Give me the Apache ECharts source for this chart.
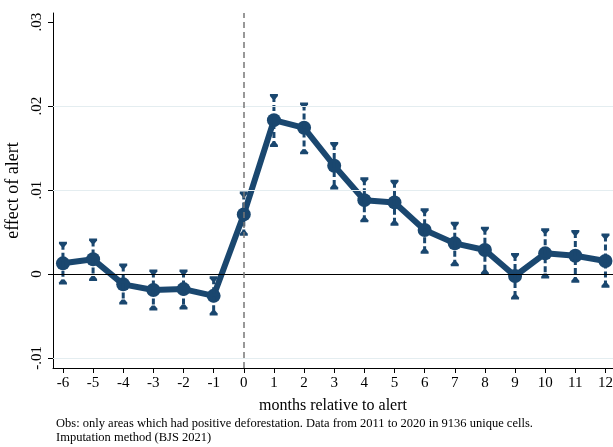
<!DOCTYPE html>
<html>
<head>
<meta charset="utf-8">
<script src="https://cdn.jsdelivr.net/npm/echarts@6/dist/echarts.min.js"></script>
<style>html,body{margin:0;padding:0;background:#fff}#c{width:613px;height:447px}</style>
</head>
<body>
<div id="c"></div>
<script>
var months = [-6,-5,-4,-3,-2,-1,0,1,2,3,4,5,6,7,8,9,10,11,12];
var estimates = [0.00127,0.00175,-0.00123,-0.0019,-0.0018,-0.0026,0.0071,0.01833,0.01742,0.0129,0.0088,0.00853,0.00524,0.00365,0.00286,-0.00024,0.00246,0.00218,0.00155];
var ciLow = [-0.001,-0.0006,-0.0034,-0.0041,-0.004,-0.0047,0.0048,0.01536,0.0145,0.0103,0.0064,0.006,0.00266,0.00115,0.00016,-0.0028,-0.0003,-0.0008,-0.0014];
var ciHigh = [0.0036,0.004,0.001,0.0003,0.0003,-0.0005,0.0096,0.0212,0.0202,0.01548,0.0113,0.011,0.0076,0.006,0.0054,0.00226,0.0052,0.005,0.0046];
var yTicks = [-0.01,0,0.01,0.02,0.03];
var yTickLabels = ['-.01','0','.01','.02','.03'];
var gridValues = [-0.01,0.01,0.02];
var footnote1 = 'Obs: only areas which had positive deforestation. Data from 2011 to 2020 in 9136 unique cells.';
var footnote2 = 'Imputation method (BJS 2021)';

var NAVY = '#1a476f';
var FONT = 'Liberation Serif';
var chart = echarts.init(document.getElementById('c'));
var pts = months.map(function(m,i){return [m, estimates[i]];});
var ci = months.map(function(m,i){return [m, ciLow[i], ciHigh[i]];});

function fmtY(v){
  for (var i=0;i<yTicks.length;i++){ if (Math.abs(v-yTicks[i])<1e-9) return yTickLabels[i]; }
  return '';
}
var refLines = gridValues.map(function(v){return {yAxis:v,lineStyle:{color:'#e4edf0',width:1,type:'solid'}};});
refLines.push({yAxis:0,lineStyle:{color:'#000',width:1,type:'solid'}});
refLines.push({xAxis:0,lineStyle:{color:'#777',width:1.5,type:[6,4]}});

chart.setOption({
  animation:false,
  backgroundColor:'#fff',
  grid:{left:53,right:0,top:13,bottom:79,containLabel:false,outerBoundsMode:'none'},
  xAxis:{
    type:'value', min:-6.33, max:12.25, interval:1,
    name:'months relative to alert', nameLocation:'middle', nameGap:30,
    nameTextStyle:{fontFamily:FONT,fontSize:16,color:'#000'},
    axisLine:{show:true,onZero:false,lineStyle:{color:'#000',width:1}},
    axisTick:{show:true,length:5,lineStyle:{color:'#000'},customValues:months},
    axisLabel:{fontFamily:FONT,fontSize:15,color:'#000',margin:8,customValues:months,
      formatter:function(v){return String(v);}},
    splitLine:{show:false}
  },
  yAxis:{
    type:'value', min:-0.0112, max:0.0311,
    name:'effect of alert', nameLocation:'middle', nameGap:20, nameRotate:90,
    nameTextStyle:{fontFamily:FONT,fontSize:18,color:'#000'},
    axisLine:{show:true,onZero:false,lineStyle:{color:'#000',width:1}},
    axisTick:{show:true,length:5,lineStyle:{color:'#000'},customValues:yTicks},
    axisLabel:{fontFamily:FONT,fontSize:15,color:'#000',rotate:90,margin:8,customValues:yTicks,
      formatter:fmtY},
    splitLine:{show:false}
  },
  graphic:[
    {type:'text',left:56,top:417,style:{text:footnote1,fontFamily:FONT,fontSize:12.5,fill:'#000'}},
    {type:'text',left:56,top:431,style:{text:footnote2,fontFamily:FONT,fontSize:12.5,fill:'#000'}}
  ],
  series:[
    {
      type:'line', data:[], silent:true,
      markLine:{symbol:'none',silent:true,label:{show:false},data:refLines}
    },
    {
      type:'line', data:pts, z:3,
      lineStyle:{color:NAVY,width:6},
      itemStyle:{color:NAVY},
      symbol:'circle', symbolSize:14, showSymbol:true
    },
    {
      type:'custom', data:ci, z:4,
      renderItem:function(params, api){
        var x = api.value(0);
        var lo = api.coord([x, api.value(1)]);
        var hi = api.coord([x, api.value(2)]);
        return {type:'group',children:[
          {type:'line',shape:{x1:hi[0],y1:hi[1],x2:lo[0],y2:lo[1]},
            style:{stroke:NAVY,lineWidth:3,lineDash:[6,3]}},
          {type:'polygon',shape:{points:[[hi[0]-4,hi[1]-2],[hi[0]+4,hi[1]-2],[hi[0]+4,hi[1]],[hi[0]+1.5,hi[1]+3],[hi[0]-1.5,hi[1]+3],[hi[0]-4,hi[1]]]},
            style:{fill:NAVY}},
          {type:'polygon',shape:{points:[[lo[0]-4,lo[1]+2],[lo[0]+4,lo[1]+2],[lo[0]+4,lo[1]],[lo[0]+1.5,lo[1]-3],[lo[0]-1.5,lo[1]-3],[lo[0]-4,lo[1]]]},
            style:{fill:NAVY}}
        ]};
      }
    }
  ]
});
</script>
</body>
</html>
